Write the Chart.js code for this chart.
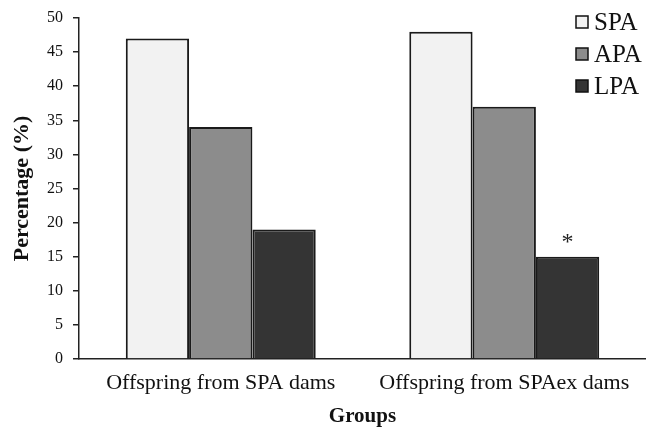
<!DOCTYPE html>
<html>
<head>
<meta charset="utf-8">
<script src="https://cdn.jsdelivr.net/npm/chart.js@4.4.1/dist/chart.umd.min.js"></script>
<style>
  html, body { margin: 0; padding: 0; background: #fff; }
  #wrap { width: 646px; height: 429px; position: relative; }
</style>
</head>
<body>
<div id="wrap"><canvas id="chart"></canvas></div>
<script>
// ===== DATA =====
const categories = ['Offspring from SPA dams', 'Offspring from SPAex dams'];
const seriesNames = ['SPA', 'APA', 'LPA'];
const spaValues = [47, 48];
const apaValues = [34, 37];
const lpaValues = [19, 15];
const seriesColors = ['#f2f2f2', '#8c8c8c', '#343434'];
// significance marks: [dataset index, category index, text]
const marks = [[2, 1, '*']];

const SERIF = '"Liberation Serif", "Times New Roman", serif';

// Legend drawn in the top right corner, one row per series
const legendPlugin = {
    id: 'cornerLegend',
    afterDraw(chart) {
        const ctx = chart.ctx;
        ctx.save();
        ctx.font = '25px ' + SERIF;
        ctx.textBaseline = 'middle';
        chart.data.datasets.forEach((ds, i) => {
            const y = 22 + i * 32;
            const x = 576;
            ctx.fillStyle = ds.backgroundColor;
            ctx.fillRect(x, y - 6, 12, 12);
            ctx.strokeStyle = '#111';
            ctx.lineWidth = 1.5;
            ctx.strokeRect(x, y - 6, 12, 12);
            ctx.fillStyle = '#111';
            ctx.fillText(ds.label, x + 18, y + 1);
        });
        ctx.restore();
    }
};

// Asterisk above the bar that differs
const markPlugin = {
    id: 'marks',
    afterDatasetsDraw(chart) {
        const ctx = chart.ctx;
        ctx.save();
        ctx.font = '24px ' + SERIF;
        ctx.fillStyle = '#222';
        ctx.textAlign = 'center';
        ctx.textBaseline = 'bottom';
        marks.forEach(([d, c, t]) => {
            const bar = chart.getDatasetMeta(d).data[c];
            ctx.fillText(t, bar.x, bar.y - 2);
        });
        ctx.restore();
    }
};

const values = [spaValues, apaValues, lpaValues];

new Chart(document.getElementById('chart'), {
    type: 'bar',
    data: {
        labels: categories,
        datasets: seriesNames.map((name, i) => ({
            label: name,
            data: values[i],
            backgroundColor: seriesColors[i],
            borderColor: '#1a1a1a',
            borderWidth: 2,
            categoryPercentage: 0.67,
            barPercentage: 1
        }))
    },
    options: {
        responsive: true,
        maintainAspectRatio: false,
        animation: false,
        layout: { padding: { top: 17, right: 0, left: 1, bottom: 0 } },
        plugins: {
            legend: { display: false },
            tooltip: { enabled: false }
        },
        scales: {
            x: {
                grid: { display: false },
                border: { display: true, color: '#222', width: 1.5 },
                ticks: {
                    color: '#111',
                    font: { family: SERIF, size: 22 },
                    padding: 3
                },
                title: {
                    display: true,
                    text: 'Groups',
                    color: '#111',
                    font: { family: SERIF, size: 21, weight: 'bold' },
                    padding: { top: 4, bottom: 0 }
                },
                afterFit(scale) { scale.height = 70; }
            },
            y: {
                min: 0,
                max: 50,
                ticks: {
                    stepSize: 5,
                    color: '#111',
                    font: { family: SERIF, size: 16, lineHeight: 1 },
                    padding: 10
                },
                grid: {
                    drawOnChartArea: false,
                    drawTicks: true,
                    tickLength: 6,
                    color: '#222',
                    lineWidth: 1.5
                },
                border: { display: true, color: '#222', width: 1.5 },
                title: {
                    display: true,
                    text: 'Percentage (%)',
                    color: '#111',
                    font: { family: SERIF, size: 22, weight: 'bold' },
                    padding: { top: 8, bottom: 4 }
                },
                afterFit(scale) { scale.width = 78; }
            }
        }
    },
    plugins: [legendPlugin, markPlugin]
});
</script>
</body>
</html>
